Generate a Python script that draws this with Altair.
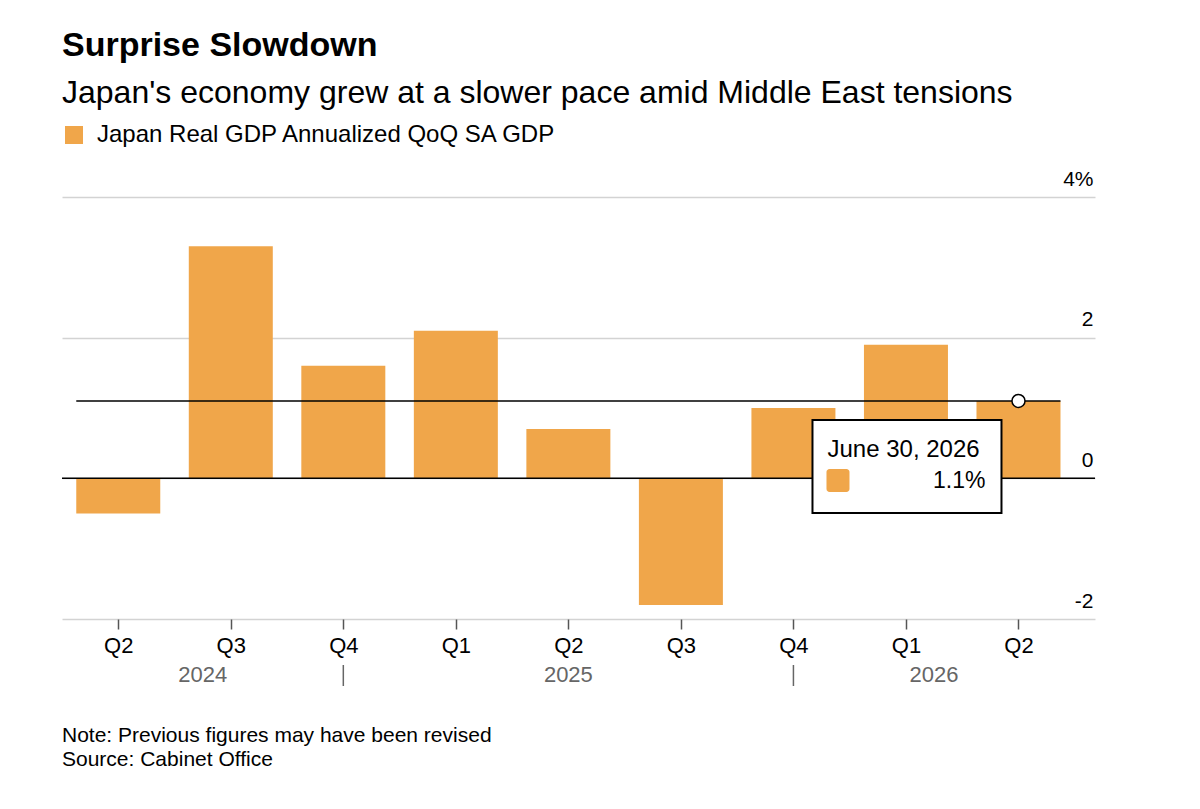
import altair as alt
import pandas as pd

# ---------------- data ----------------
QUARTERS = ["Q2", "Q3", "Q4", "Q1", "Q2", "Q3", "Q4", "Q1", "Q2"]
YEARS = [2024, 2024, 2024, 2025, 2025, 2025, 2025, 2026, 2026]
QUARTER_END = ["2024-06-30", "2024-09-30", "2024-12-31", "2025-03-31", "2025-06-30",
               "2025-09-30", "2025-12-31", "2026-03-31", "2026-06-30"]
GDP = [-0.5, 3.3, 1.6, 2.1, 0.7, -1.8, 1.0, 1.9, 1.1]
SERIES = "Japan Real GDP Annualized QoQ SA GDP"
Y_TICKS = [-2, 0, 2, 4]

TITLE = "Surprise Slowdown"
SUBTITLE = "Japan's economy grew at a slower pace amid Middle East tensions"
NOTE = "Note: Previous figures may have been revised"
SOURCE = "Source: Cabinet Office"

# ---------------- style ----------------
FONT = "Liberation Sans"
ORANGE = "#F0A64A"
W, H = 1033, 422
X_DOMAIN = [-0.5, 8.68]

idx = list(range(len(QUARTERS)))
df = pd.DataFrame({"idx": idx, "q": QUARTERS, "year": YEARS,
                   "date": QUARTER_END, "value": GDP, "series": SERIES})
last = df.iloc[[-1]].copy()
last["first_idx"] = idx[0]

# year boundaries (after each Q4) and year label positions (middle of visible span)
seps = [i for i, q in enumerate(QUARTERS) if q == "Q4"]
bounds = [-0.5] + seps + [len(QUARTERS) - 0.5]
year_names = sorted(set(YEARS))
year_df = pd.DataFrame({"year": [str(y) for y in year_names],
                        "pos": [(bounds[k] + bounds[k + 1]) / 2 for k in range(len(year_names))]})
sep_df = pd.DataFrame({"sep": seps})

xscale = alt.Scale(domain=X_DOMAIN, nice=False, zero=False, padding=0)
yscale = alt.Scale(domain=[-2, 4], nice=False, zero=False, padding=0)

label_arr = "[" + ",".join("'%s'" % q for q in QUARTERS) + "]"

bars = alt.Chart(df).mark_bar(width=84).encode(
    x=alt.X("idx:Q", scale=xscale, title=None,
            axis=alt.Axis(values=idx, labelExpr=label_arr + "[datum.value]",
                          domain=False, grid=False, ticks=True, tickSize=10,
                          tickColor="#555555", tickWidth=1.5, labelPadding=6,
                          labelFontSize=22, labelColor="#000000", labelFont=FONT)),
    y=alt.Y("value:Q", scale=yscale, title=None,
            axis=alt.Axis(orient="right", values=Y_TICKS,
                          labelExpr="datum.value == 4 ? '4%' : toString(datum.value)",
                          domain=False, ticks=False, grid=True, gridColor="#d3d3d3",
                          gridWidth=1.5, labelAlign="right", labelPadding=-2,
                          labelBaseline="alphabetic", labelOffset=-12,
                          labelFontSize=21, labelColor="#000000", labelFont=FONT)),
    color=alt.Color("series:N", scale=alt.Scale(domain=[SERIES], range=[ORANGE]),
                    legend=alt.Legend(orient="none", legendX=0, legendY=-74, title=None,
                                      symbolType="square", symbolSize=324,
                                      symbolStrokeWidth=0, symbolOpacity=1,
                                      labelFontSize=24, labelFont=FONT, labelLimit=0,
                                      labelColor="#000000", labelOffset=11, padding=0)),
)

zero = alt.Chart(pd.DataFrame({"z": [0]})).mark_rule(color="#000000", strokeWidth=1.5).encode(
    y=alt.Y("z:Q", scale=yscale))

level = alt.Chart(last).mark_rule(color="#000000", strokeWidth=1.5, xOffset=-42, x2Offset=42).encode(
    x=alt.X("first_idx:Q", scale=xscale), x2="idx:Q", y=alt.Y("value:Q", scale=yscale))

box = alt.Chart(last).mark_rect(fill="white", stroke="#000000", strokeWidth=2,
                                xOffset=-206, x2Offset=-17, yOffset=19, y2Offset=112).encode(
    x=alt.X("idx:Q", scale=xscale), x2="idx:Q",
    y=alt.Y("value:Q", scale=yscale), y2="value:Q")

box_date = alt.Chart(last).mark_text(font=FONT, fontSize=24, align="left", baseline="alphabetic",
                                     dx=-191, dy=56, color="#000000").encode(
    x=alt.X("idx:Q", scale=xscale), y=alt.Y("value:Q", scale=yscale),
    text=alt.Text("date:T", format="%B %-d, %Y"))

box_val = alt.Chart(last).transform_calculate(
    lab="format(datum.value, '.1f') + '%'"
).mark_text(font=FONT, fontSize=23, align="right", baseline="alphabetic",
            dx=-33, dy=87, color="#000000").encode(
    x=alt.X("idx:Q", scale=xscale), y=alt.Y("value:Q", scale=yscale), text="lab:N")

box_swatch = alt.Chart(last).mark_rect(fill=ORANGE, cornerRadius=3,
                                       xOffset=-192, x2Offset=-169, yOffset=68, y2Offset=91).encode(
    x=alt.X("idx:Q", scale=xscale), x2="idx:Q",
    y=alt.Y("value:Q", scale=yscale), y2="value:Q")

dot = alt.Chart(last).mark_point(shape="circle", filled=True, fill="white", stroke="#000000",
                                 strokeWidth=1.5, size=170, opacity=1).encode(
    x=alt.X("idx:Q", scale=xscale), y=alt.Y("value:Q", scale=yscale))

year_text = alt.Chart(year_df).mark_text(font=FONT, fontSize=22, color="#666666",
                                         baseline="alphabetic", align="center").encode(
    x=alt.X("pos:Q", scale=xscale), y=alt.value(H + 63), text="year:N")

sep_rule = alt.Chart(sep_df).mark_rule(color="#666666", strokeWidth=1.5).encode(
    x=alt.X("sep:Q", scale=xscale), y=alt.value(H + 46), y2=alt.value(H + 67))

def txt(s, y, size, bold=False):
    return alt.Chart(pd.DataFrame({"t": [s]})).mark_text(
        font=FONT, fontSize=size, fontWeight="bold" if bold else "normal",
        align="left", baseline="alphabetic", color="#000000").encode(
        x=alt.value(0), y=alt.value(y), text="t:N")

title = txt(TITLE, -141, 34, bold=True)
subtitle = txt(SUBTITLE, -94, 32)
note = txt(NOTE, H + 123, 21)
source = txt(SOURCE, H + 147, 21)

chart = alt.layer(
    bars, zero, level, box, box_swatch, box_date, box_val, dot,
    year_text, sep_rule, title, subtitle, note, source
).properties(
    width=W, height=H,
    autosize=alt.AutoSizeParams(type="none"),
    padding={"left": 54, "top": 189, "right": 90, "bottom": 170},
).configure(font=FONT, view=alt.ViewConfig(strokeWidth=0, stroke="transparent"))

chart.save("out.html", embed_options={"renderer": "svg", "actions": False})
